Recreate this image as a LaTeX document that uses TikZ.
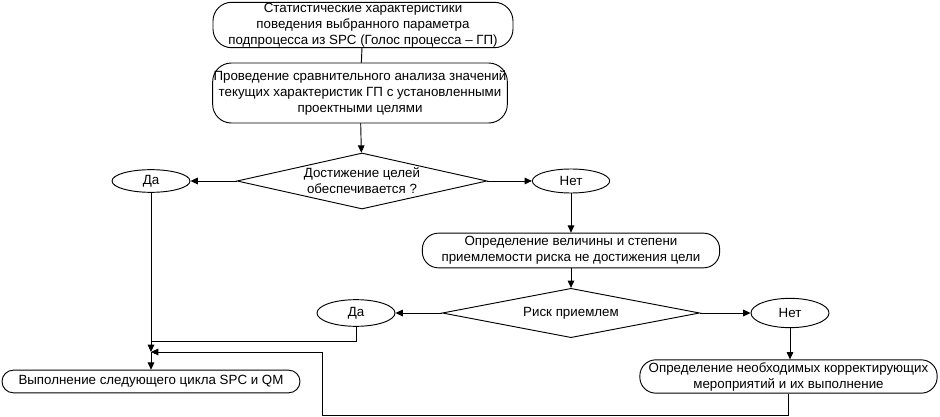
\documentclass[tikz,border=0pt]{standalone}
\usepackage{fontspec}
\setmainfont{Liberation Sans}
\usetikzlibrary{
  arrows.meta,
  shapes.geometric,
  positioning,
  calc
}
\tikzset{
  fcnode/.style={
    draw, line width=0.7pt, font=\fontsize{10}{12}\selectfont, align=center, inner sep=0.5pt
  },
  procbox/.style={fcnode, rounded corners=14pt},
  decision/.style={fcnode, diamond, aspect=4.4, inner sep=0pt},
  answer/.style={fcnode, ellipse, inner sep=0pt},
  flow/.style={-{Triangle[length=5.5pt, width=5pt]}, line width=0.7pt},
  link/.style={line width=0.7pt}
}

\begin{document}
\begin{tikzpicture}[x=0.75pt, y=-0.75pt]
  \useasboundingbox (0,0) rectangle (940,417);
  % upper part
  \node[procbox, minimum width=225pt, minimum height=34pt] (spc) at (363,25)
    {Статистические характеристики\\поведения выбранного параметра\\подпроцесса из SPC (Голос процесса – ГП)};
  \node[procbox, minimum width=221pt, minimum height=45pt] (anal) at (360,93)
    {Проведение сравнительного анализа значений\\текущих характеристик ГП с установленными\\проектными целями};
  \node[decision, minimum width=187.5pt, minimum height=42pt] (goal) at (362,181)
    {Достижение целей\\обеспечивается ?};
  \node[answer, minimum width=58.5pt, minimum height=17pt] (yes1) at (151,181) {Да};
  \node[answer, minimum width=58pt, minimum height=18pt] (no1) at (571,181) {Нет};
  % lower part
  \node[procbox, rounded corners=12pt, minimum width=223pt, minimum height=26pt] (risk) at (571,250.5)
    {Определение величины и степени\\приемлемости риска не достижения цели};
  \node[decision, minimum width=193pt, minimum height=37pt] (ok) at (571,313)
    {Риск приемлем};
  \node[answer, minimum width=58.5pt, minimum height=20pt] (yes2) at (356,313) {Да};
  \node[answer, minimum width=58.5pt, minimum height=22pt] (no2) at (790,313) {Нет};
  \node[procbox, rounded corners=12pt, minimum width=223pt, minimum height=25pt] (fix) at (788.5,376.5)
    {Определение необходимых корректирующих\\мероприятий и их выполнение};
  \node[procbox, rounded corners=8.5pt, minimum width=223.5pt, minimum height=17pt] (next) at (151,381.5)
    {Выполнение следующего цикла SPC и QM};
  \coordinate (merge) at (151,341);
  \coordinate (join) at (151,352);
  \coordinate (loop) at (322,415);

  \draw[link] (spc) -- (anal);
  \draw[flow] (anal) -- (goal);
  \draw[flow] (goal.west) -- (yes1.east);
  \draw[flow] (goal.east) -- (no1.west);
  \draw[flow] (no1) -- (no1 |- risk.north);
  \draw[flow] (risk) -- (ok);
  \draw[flow] (ok.west) -- (yes2.east);
  \draw[flow] (ok.east) -- (no2.west);
  \draw[flow] (no2) -- (no2 |- fix.north);
  \draw[link] (yes2) |- (merge);
  \draw[flow] (yes1) -- (join);
  \draw[flow] (join) -- (next);
  \draw[flow] (fix) |- (loop) |- (join);
\end{tikzpicture}
\end{document}
